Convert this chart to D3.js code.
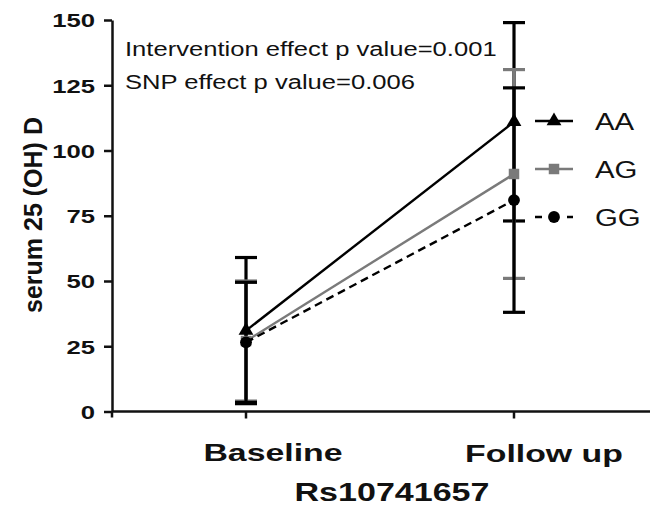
<!DOCTYPE html>
<html>
<head>
<meta charset="utf-8">
<script src="https://cdn.jsdelivr.net/npm/d3@7"></script>
<style>
  html, body { margin: 0; padding: 0; background: #fff; }
  svg { display: block; font-family: Arial, "Liberation Sans", sans-serif; }
</style>
</head>
<body>
<svg id="chart" width="653" height="506"></svg>
<script>
/* ---------- data ---------- */
const timepoints = ['Baseline', 'Follow up'];
const genotypes  = ['AA', 'AG', 'GG'];
const meanAA = [31, 111];
const meanAG = [27, 91];
const meanGG = [26.5, 81];
const errAA  = [28, 38];
const errAG  = [23, 40];
const errGG  = [23, 43];
const yTicks = [0, 25, 50, 75, 100, 125, 150];
const notes  = ['Intervention effect p value=0.001', 'SNP effect p value=0.006'];
const xTitle = 'Rs10741657';
const yTitle = 'serum 25 (OH) D';

const series = [
  { name: 'AA', mean: meanAA, err: errAA, color: '#000', dash: null,  symbol: d3.symbolTriangle },
  { name: 'AG', mean: meanAG, err: errAG, color: '#7a7a7a', dash: null,  symbol: d3.symbolSquare },
  { name: 'GG', mean: meanGG, err: errGG, color: '#000', dash: '8,5', symbol: d3.symbolCircle },
];

/* ---------- layout ---------- */
const svg = d3.select('#chart');
const axisLeftX = 112, axisEndX = 650;
const sx = 1.38; // source image is stretched horizontally

const x = d3.scalePoint().domain(timepoints).range([246, 514]);
const y = d3.scaleLinear().domain([0, 150]).range([411.5, 20]);

// helper for horizontally stretched text
function label(txt, tx, ty, size, weight, anchor, stretch) {
  return svg.append('text')
    .attr('transform', `translate(${tx},${ty}) scale(${stretch},1)`)
    .attr('text-anchor', anchor)
    .style('font-size', size + 'px')
    .style('font-weight', weight)
    .attr('fill', '#111')
    .text(txt);
}

/* ---------- axes ---------- */
const yAxis = svg.append('g')
  .attr('transform', `translate(${axisLeftX},0)`)
  .call(d3.axisLeft(y).tickValues(yTicks).tickSize(8).tickSizeOuter(0));
yAxis.select('.domain').attr('stroke', '#111').attr('stroke-width', 2.5);
yAxis.selectAll('.tick line').attr('stroke', '#111').attr('stroke-width', 2.5);
yAxis.selectAll('.tick text')
  .attr('x', -12.5)
  .attr('dy', '0.36em')
  .attr('transform', `scale(${sx * 0.98},1)`)
  .style('font-size', '19px')
  .style('font-weight', 'bold')
  .attr('fill', '#111');

// x axis baseline
svg.append('line')
  .attr('x1', axisLeftX).attr('x2', axisEndX)
  .attr('y1', y(0)).attr('y2', y(0))
  .attr('stroke', '#111').attr('stroke-width', 2.5);
svg.append('line')
  .attr('x1', axisLeftX).attr('x2', axisLeftX)
  .attr('y1', y(0)).attr('y2', y(0) + 6)
  .attr('stroke', '#111').attr('stroke-width', 2.5);

svg.append('g').selectAll('line')
  .data(timepoints)
  .join('line')
  .attr('x1', d => x(d)).attr('x2', d => x(d))
  .attr('y1', y(0)).attr('y2', y(0) + 7)
  .attr('stroke', '#111').attr('stroke-width', 2.5);

// category labels (offset to the right as in the source)
label(timepoints[0], x(timepoints[0]) + 27, 461, 24, 'bold', 'middle', 1.41);
label(timepoints[1], x(timepoints[1]) + 30, 462, 24, 'bold', 'middle', 1.41);
label(xTitle, 392, 501, 26, 'bold', 'middle', 1.31);

svg.append('text')
  .attr('transform', `translate(42,215) rotate(-90)`)
  .attr('text-anchor', 'middle')
  .style('font-size', '25px')
  .style('font-weight', 'bold')
  .attr('fill', '#111')
  .text(yTitle);

/* ---------- annotations ---------- */
label(notes[0], 125, 56, 20, 'normal', 'start', 1.28);
label(notes[1], 125, 89, 20, 'normal', 'start', 1.28);

/* ---------- error bars ---------- */
const capW = 11;
series.forEach(s => {
  const g = svg.append('g').attr('stroke', s.color).attr('stroke-width', 3.2);
  timepoints.forEach((t, i) => {
    const lo = s.mean[i] - s.err[i], hi = s.mean[i] + s.err[i];
    g.append('line')
      .attr('x1', x(t)).attr('x2', x(t))
      .attr('y1', y(lo)).attr('y2', y(hi));
    [lo, hi].forEach(v => g.append('line')
      .attr('x1', x(t) - capW).attr('x2', x(t) + capW)
      .attr('y1', y(v)).attr('y2', y(v)));
  });
});

/* ---------- series lines + markers ---------- */
const line = d3.line().x((d, i) => x(timepoints[i])).y(d => y(d));
series.forEach(s => {
  svg.append('path')
    .datum(s.mean)
    .attr('d', line)
    .attr('fill', 'none')
    .attr('stroke', s.color)
    .attr('stroke-width', 2.4)
    .attr('stroke-dasharray', s.dash);
  svg.append('g').selectAll('path')
    .data(s.mean)
    .join('path')
    .attr('transform', (d, i) => `translate(${x(timepoints[i])},${y(d)})`)
    .attr('d', d3.symbol(s.symbol, s.name === 'AA' ? 95 : 110))
    .attr('fill', s.color);
});

/* ---------- legend ---------- */
const legendY = [121, 169, 217];
series.forEach((s, i) => {
  const g = svg.append('g').attr('transform', `translate(535,${legendY[i]})`);
  g.append('line')
    .attr('x1', 0).attr('x2', 38)
    .attr('stroke', s.color).attr('stroke-width', 2.6)
    .attr('stroke-dasharray', s.dash ? '7,9' : null);
  g.append('path')
    .attr('transform', 'translate(19,0)')
    .attr('d', d3.symbol(s.symbol, s.name === 'AA' ? 95 : 110))
    .attr('fill', s.color);
  g.append('text')
    .attr('transform', 'translate(60,8.5) scale(1.25,1)')
    .style('font-size', '23.5px')
    .attr('fill', '#111')
    .text(genotypes[i]);
});
</script>
</body>
</html>
